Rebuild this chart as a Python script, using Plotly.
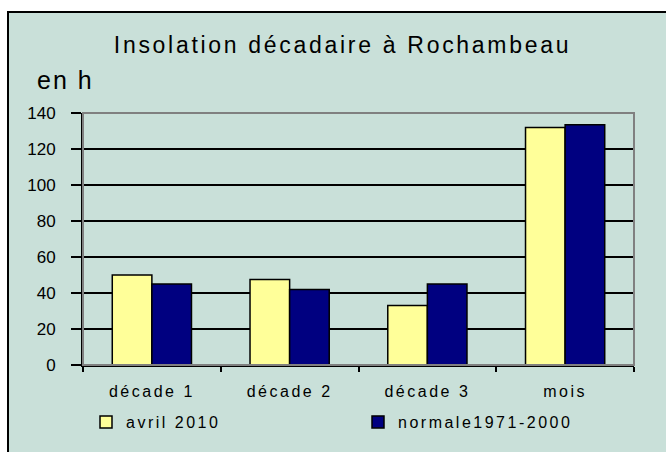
import plotly.graph_objects as go

categories = ["décade 1", "décade 2", "décade 3", "mois"]
avril_2010 = [50, 47.5, 33, 132]
normale = [45, 42, 45, 133.5]
series_names = ["avril 2010", "normale1971-2000"]
y_ticks = [0, 20, 40, 60, 80, 100, 120, 140]

bg = "#C9E0D9"
L, R, T, B = 83, 634, 113, 365  # plot area in pixels
W, H = R - L, B - T


def px(x):
    return (x - L) / W


def py(y):
    return (B - y) / H


fig = go.Figure()
fig.add_trace(go.Bar(x=categories, y=avril_2010, name=series_names[0],
                     marker=dict(color="#FFFF99", line=dict(color="black", width=1.5)),
                     legend="legend"))
fig.add_trace(go.Bar(x=categories, y=normale, name=series_names[1],
                     marker=dict(color="#000080", line=dict(color="black", width=1.5)),
                     legend="legend2"))

font_family = "Liberation Sans, Arial, sans-serif"
fig.update_layout(
    width=666, height=452,
    paper_bgcolor="white", plot_bgcolor=bg,
    margin=dict(l=L, r=666 - R, t=T, b=452 - B),
    font=dict(family=font_family, size=16, color="black"),
    bargap=0.425, bargroupgap=0,
    showlegend=True,
    legend=dict(x=px(86), y=py(422), xanchor="left", yanchor="middle", orientation="h",
                bgcolor="rgba(0,0,0,0)", font=dict(size=16), borderwidth=0),
    legend2=dict(x=px(358), y=py(422), xanchor="left", yanchor="middle", orientation="h",
                 bgcolor="rgba(0,0,0,0)", font=dict(size=16), borderwidth=0),
    title=dict(text="Insolation décadaire à Rochambeau", x=342.5 / 666, xref="container",
               y=1 - 45 / 452, yref="container", xanchor="center", yanchor="middle",
               font=dict(size=23)),
    shapes=[
        dict(type="rect", xref="paper", yref="paper", x0=px(8), x1=px(700),
             y0=py(480), y1=py(12), line=dict(color="black", width=2),
             fillcolor=bg, layer="below"),
        dict(type="rect", xref="paper", yref="paper", x0=0, x1=1, y0=0, y1=1,
             line=dict(color="#808080", width=2), layer="above"),
    ],
    annotations=[dict(text="en h", xref="paper", yref="paper", x=px(39), y=py(80),
                      xanchor="left", yanchor="middle", showarrow=False, font=dict(size=25))],
)
fig.update_yaxes(range=[0, 140], tickvals=y_ticks, showgrid=True, gridcolor="black", gridwidth=1.5,
                 showline=True, linecolor="black", linewidth=2, ticks="outside", ticklen=10,
                 tickwidth=1.5, tickcolor="black", zeroline=False, ticklabelstandoff=12,
                 tickfont=dict(size=17))
fig.update_xaxes(showline=True, linecolor="black", linewidth=2, ticks="outside", tickson="boundaries",
                 ticklen=5, tickwidth=1.5, tickcolor="black", showgrid=False, ticklabelstandoff=11)

post = """
document.body.style.margin = '0';
document.body.style.overflow = 'hidden';
var st = document.createElement('style');
st.textContent = '.gtitle{letter-spacing:2.7px}' +
  '.annotation-text{letter-spacing:2px}' +
  '.xtick text{letter-spacing:2.5px}' +
  'text.legendtext, g[class^="legend"] text, .legend2 text{letter-spacing:2.5px !important}';
document.head.appendChild(st);
var gd = document.getElementById('{plot_id}');
function unclip() {
  gd.querySelectorAll('.infolayer [clip-path]').forEach(function(e){
    var c = e.getAttribute('class') || '';
    if (c.indexOf('scrollbox') >= 0) { e.removeAttribute('clip-path'); }
  });
  gd.querySelectorAll('.legendtext').forEach(function(e){ e.style.letterSpacing = '2.5px'; });
}
unclip();
gd.on('plotly_afterplot', unclip);
setTimeout(unclip, 50);
"""
fig.write_html("out.html", post_script=post, config={"displayModeBar": False})
